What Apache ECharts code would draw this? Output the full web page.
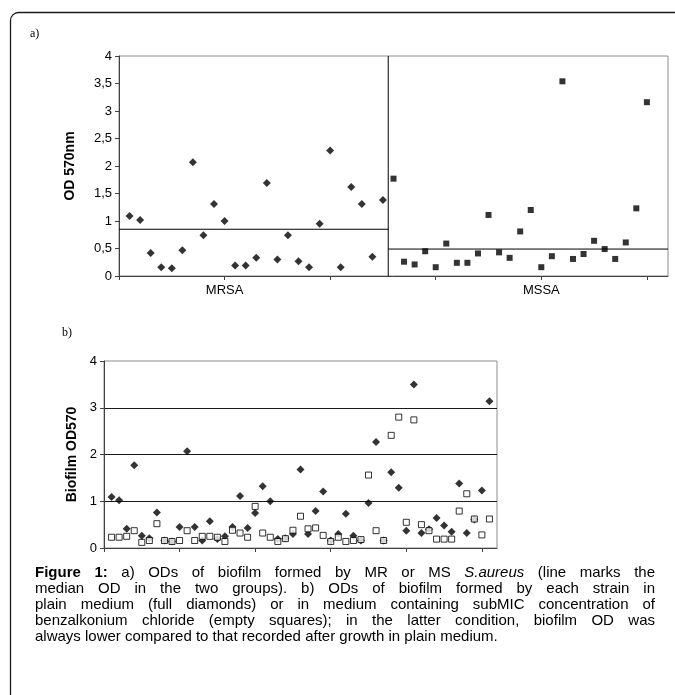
<!DOCTYPE html>
<html><head><meta charset="utf-8">
<script src="https://cdn.jsdelivr.net/npm/echarts@6/dist/echarts.min.js"></script>
<style>html,body{margin:0;padding:0;background:#fff}#c{width:675px;height:695px}</style>
</head><body><div id="c"></div>
<script>
// ---------- data ----------
const groupsA = ['MRSA', 'MSSA'];
const groupLabelAt = [10, 40];
const mrsaOD = [1.09, 1.02, 0.42, 0.16, 0.14, 0.47, 2.07, 0.74, 1.31, 1.00, 0.19, 0.19, 0.33, 1.69, 0.30, 0.74, 0.27, 0.16, 0.95, 2.28, 0.16, 1.62, 1.31, 0.35, 1.38];
const mssaOD = [1.77, 0.26, 0.21, 0.45, 0.16, 0.59, 0.24, 0.24, 0.41, 1.11, 0.43, 0.33, 0.81, 1.20, 0.16, 0.36, 3.54, 0.31, 0.40, 0.64, 0.49, 0.31, 0.61, 1.23, 3.16];
const mediansA = [0.85, 0.49];
const yTicksA = ['0', '0,5', '1', '1,5', '2', '2,5', '3', '3,5', '4'];

const plainOD = [1.09, 1.02, 0.41, 1.77, 0.26, 0.21, 0.76, 0.16, 0.14, 0.45, 2.07, 0.45, 0.16, 0.57, 0.19, 0.25, 0.45, 1.11, 0.43, 0.75, 1.32, 1.00, 0.19, 0.21, 0.30, 1.68, 0.30, 0.79, 1.21, 0.16, 0.30, 0.73, 0.26, 0.16, 0.96, 2.27, 0.16, 1.62, 1.29, 0.37, 3.50, 0.32, 0.40, 0.64, 0.48, 0.35, 1.38, 0.32, 0.61, 1.23, 3.14];
const bacOD = [0.23, 0.23, 0.25, 0.37, 0.12, 0.16, 0.52, 0.16, 0.14, 0.16, 0.37, 0.16, 0.25, 0.25, 0.23, 0.14, 0.38, 0.32, 0.23, 0.89, 0.32, 0.23, 0.14, 0.20, 0.38, 0.68, 0.41, 0.43, 0.27, 0.14, 0.23, 0.14, 0.16, 0.18, 1.56, 0.37, 0.16, 2.41, 2.80, 0.55, 2.74, 0.50, 0.37, 0.19, 0.19, 0.19, 0.79, 1.16, 0.62, 0.28, 0.62];
const yTicksB = ['0', '1', '2', '3', '4'];

const captionLines = [
  'Figure 1:  a) ODs of biofilm formed by MR or MS S.aureus (line marks the',
  'median OD in the two groups). b) ODs of biofilm formed by  each strain in',
  'plain medium (full diamonds) or in medium containing subMIC concentration of',
  'benzalkonium chloride (empty squares); in the latter condition, biofilm OD was',
  'always lower compared to that recorded after growth in plain medium.'
];
const boldWords = ['Figure', '1:'];
const italicWords = ['S.aureus'];

// ---------- build ----------
const SANS = '"Liberation Sans", Arial, sans-serif';
const SERIF = '"Liberation Serif", "Times New Roman", serif';
const nA = mrsaOD.length;
const splitA = nA + 0.5;
const mrsaPts = mrsaOD.map((v, i) => [i + 1, v]);
const mssaPts = mssaOD.map((v, i) => [nA + i + 1, v]);
const plainPts = plainOD.map((v, i) => [i + 1, v]);
const bacPts = bacOD.map((v, i) => [i + 1, v]);
const xMax = 52, xTicks = [0, 10, 20, 30, 40, 50];

// caption (justified)
const capGraphics = [];
(function () {
  const ctx = document.createElement('canvas').getContext('2d');
  const FS = 15, X0 = 35, W = 620, Y0 = 565, LH = 16.2;
  captionLines.forEach((line, li) => {
    const words = line.split(/\s+/);
    const styles = words.map(w => ({
      fontWeight: boldWords.includes(w) && li === 0 ? 'bold' : 'normal',
      fontStyle: italicWords.includes(w) ? 'italic' : 'normal'
    }));
    const widths = words.map((w, k) => {
      ctx.font = styles[k].fontStyle + ' ' + styles[k].fontWeight + ' ' + FS + 'px ' + SANS;
      return ctx.measureText(w).width;
    });
    ctx.font = 'normal normal ' + FS + 'px ' + SANS;
    const sp = ctx.measureText(' ').width;
    const total = widths.reduce((a, b) => a + b, 0);
    const last = li === captionLines.length - 1;
    const gap = last ? sp : (W - total) / (words.length - 1);
    let x = X0;
    words.forEach((w, k) => {
      capGraphics.push({
        type: 'text', left: x, top: Y0 + li * LH,
        style: { text: w, font: styles[k].fontStyle + ' ' + styles[k].fontWeight + ' ' + FS + 'px ' + SANS, fill: '#000' }
      });
      x += widths[k] + gap;
    });
  });
})();

const axisCommon = {
  axisLine: { show: true, lineStyle: { color: '#404040', width: 1 } },
  axisTick: { show: true, inside: false, length: 4, lineStyle: { color: '#404040' } },
  splitLine: { show: false }
};

const option = {
  animation: false,
  backgroundColor: '#fff',
  grid: [
    { left: 119, top: 56, width: 549, height: 220, show: true, borderColor: '#8c8c8c', borderWidth: 1, backgroundColor: 'transparent', outerBoundsMode: 'none' },
    { left: 104, top: 361, width: 393, height: 187, show: true, borderColor: '#8c8c8c', borderWidth: 1, backgroundColor: 'transparent', outerBoundsMode: 'none' }
  ],
  xAxis: [
    Object.assign({}, axisCommon, {
      gridIndex: 0, type: 'value', min: 0, max: xMax, interval: 10,
      axisTick: Object.assign({}, axisCommon.axisTick, { customValues: xTicks }),
      axisLabel: {
        customValues: groupLabelAt, margin: 8, color: '#000', fontFamily: SANS, fontSize: 13,
        formatter: v => groupsA[groupLabelAt.indexOf(v)] || ''
      }
    }),
    Object.assign({}, axisCommon, {
      gridIndex: 1, type: 'value', min: 0, max: xMax, interval: 10,
      axisTick: Object.assign({}, axisCommon.axisTick, { customValues: xTicks }),
      axisLabel: { show: false }
    })
  ],
  yAxis: [
    Object.assign({}, axisCommon, {
      gridIndex: 0, type: 'value', min: 0, max: 4, interval: 0.5,
      axisLabel: { color: '#000', fontFamily: SANS, fontSize: 13, margin: 7, formatter: v => yTicksA[Math.round(v / 0.5)] },
      name: 'OD 570nm', nameLocation: 'middle', nameGap: 42,
      nameTextStyle: { fontFamily: SANS, fontSize: 14, fontWeight: 'bold', color: '#000' }
    }),
    Object.assign({}, axisCommon, {
      gridIndex: 1, type: 'value', min: 0, max: 4, interval: 1,
      axisLabel: { color: '#000', fontFamily: SANS, fontSize: 13, margin: 7, formatter: v => yTicksB[Math.round(v)] },
      splitLine: { show: true, showMinLine: false, showMaxLine: false, lineStyle: { color: '#1a1a1a', width: 1 } },
      name: 'Biofilm OD570', nameLocation: 'middle', nameGap: 24,
      nameTextStyle: { fontFamily: SANS, fontSize: 14, fontWeight: 'bold', color: '#000' }
    })
  ],
  series: [
    { type: 'line', xAxisIndex: 0, yAxisIndex: 0, data: [[0, mediansA[0]], [splitA, mediansA[0]]], showSymbol: false, symbol: 'none', lineStyle: { color: '#000', width: 1 }, z: 1 },
    { type: 'line', xAxisIndex: 0, yAxisIndex: 0, data: [[splitA, mediansA[1]], [xMax, mediansA[1]]], showSymbol: false, symbol: 'none', lineStyle: { color: '#000', width: 1 }, z: 1 },
    { type: 'line', xAxisIndex: 0, yAxisIndex: 0, data: [[splitA, 0], [splitA, 4]], showSymbol: false, symbol: 'none', lineStyle: { color: '#000', width: 1 }, z: 1 },
    { type: 'scatter', xAxisIndex: 0, yAxisIndex: 0, data: mrsaPts, symbol: 'diamond', symbolSize: 8, itemStyle: { color: '#000' }, z: 3 },
    { type: 'scatter', xAxisIndex: 0, yAxisIndex: 0, data: mssaPts, symbol: 'rect', symbolSize: 6, itemStyle: { color: '#000' }, z: 3 },
    { type: 'scatter', xAxisIndex: 1, yAxisIndex: 1, data: plainPts, symbol: 'diamond', symbolSize: 8, itemStyle: { color: '#000' }, z: 3 },
    { type: 'scatter', xAxisIndex: 1, yAxisIndex: 1, data: bacPts, symbol: 'rect', symbolSize: 6, itemStyle: { color: '#fff', borderColor: '#000', borderWidth: 1 }, z: 4 }
  ],
  graphic: [
    { type: 'rect', left: 8, top: 10, shape: { width: 720, height: 740, r: 8 }, style: { fill: 'none', stroke: '#1a1a1a', lineWidth: 1.3 }, z: 0 },
    { type: 'text', left: 30, top: 28, style: { text: 'a)', font: '12px ' + SERIF, fill: '#000' } },
    { type: 'text', left: 62, top: 327, style: { text: 'b)', font: '12px ' + SERIF, fill: '#000' } }
  ].concat(capGraphics)
};

const chart = echarts.init(document.getElementById('c'), null, { renderer: 'canvas' });
chart.setOption(option);
</script>
</body></html>
